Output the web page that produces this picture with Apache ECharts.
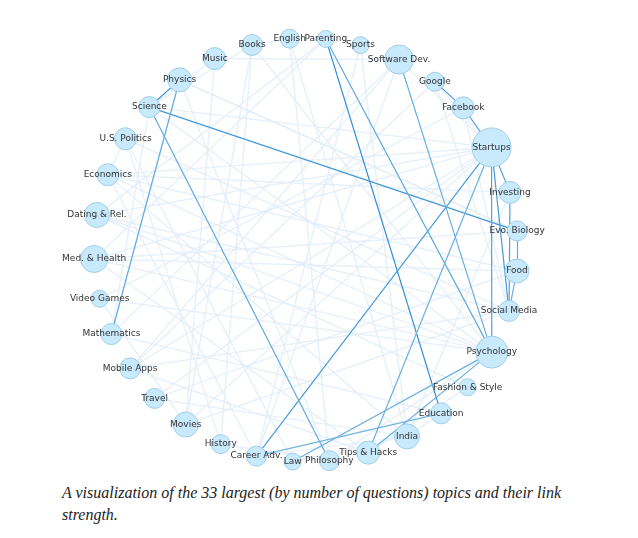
<!DOCTYPE html>
<html>
<head>
<meta charset="utf-8">
<script src="https://cdn.jsdelivr.net/npm/echarts@6/dist/echarts.min.js"></script>
<style>
  body { margin: 0; background: #fff; }
  #chart { width: 638px; height: 480px; }
  .caption { position: absolute; left: 62px; top: 482px; width: 540px; font-family: "Liberation Serif", serif; font-style: italic; font-size: 16px; line-height: 22px; color: #222; }
</style>
</head>
<body>
<div id="chart"></div>
<div class="caption">A visualization of the 33 largest (by number of questions) topics and their link strength.</div>
<script>
// 话题节点（从右侧开始，顺时针）
var topics = ['Food', 'Social Media', 'Psychology', 'Fashion & Style', 'Education', 'India', 'Tips & Hacks',
  'Philosophy', 'Law', 'Career Adv.', 'History', 'Movies', 'Travel', 'Mobile Apps', 'Mathematics',
  'Video Games', 'Med. & Health', 'Dating & Rel.', 'Economics', 'U.S. Politics', 'Science', 'Physics',
  'Music', 'Books', 'English', 'Parenting', 'Sports', 'Software Dev.', 'Google', 'Facebook', 'Startups',
  'Investing', 'Evo. Biology'];
var sizes = [24, 21, 32, 17, 21, 25, 23, 20, 17, 20, 19, 25, 20, 21, 21, 17, 27, 25, 22, 22, 21, 24,
  22, 21, 19, 17, 17, 29, 19, 22, 39, 22, 20];

// 强连接 [源, 目标, 强度 0-1]
var strongLinks = [
  ['Parenting', 'Education', 0.95], ['Science', 'Evo. Biology', 0.75], ['Startups', 'Career Adv.', 0.7],
  ['Startups', 'Social Media', 0.75], ['Startups', 'Psychology', 0.6], ['Investing', 'Social Media', 0.65],
  ['Physics', 'Science', 0.95], ['Google', 'Facebook', 0.7], ['Facebook', 'Startups', 0.55],
  ['Startups', 'Investing', 0.55], ['Evo. Biology', 'Food', 0.5], ['Science', 'Philosophy', 0.5],
  ['Parenting', 'Psychology', 0.5], ['Physics', 'Mathematics', 0.5], ['Psychology', 'Tips & Hacks', 0.45],
  ['Psychology', 'Law', 0.4], ['Software Dev.', 'Psychology', 0.4], ['Startups', 'Tips & Hacks', 0.4],
  ['Education', 'Career Adv.', 0.35], ['Food', 'Social Media', 0.4]
];
// 弱连接
var weakLinks = [
  ['Startups', 'Economics'], ['Startups', 'Mobile Apps'], ['Startups', 'Software Dev.'], ['Startups', 'Google'],
  ['Startups', 'Med. & Health'], ['Startups', 'Dating & Rel.'], ['Startups', 'Movies'], ['Startups', 'Travel'],
  ['Psychology', 'Med. & Health'], ['Psychology', 'Dating & Rel.'], ['Psychology', 'Economics'],
  ['Psychology', 'Philosophy'], ['Psychology', 'Books'], ['Psychology', 'Science'], ['Psychology', 'Video Games'],
  ['Science', 'Mathematics'], ['Science', 'Books'], ['Science', 'Music'], ['Science', 'Startups'],
  ['Economics', 'U.S. Politics'], ['Economics', 'Investing'], ['Economics', 'India'], ['Economics', 'Food'],
  ['Med. & Health', 'Food'], ['Med. & Health', 'Evo. Biology'], ['Dating & Rel.', 'Social Media'],
  ['Books', 'History'], ['Books', 'English'], ['Books', 'Movies'], ['Music', 'Movies'], ['Music', 'Software Dev.'],
  ['English', 'India'], ['English', 'Philosophy'], ['Sports', 'India'], ['Sports', 'Career Adv.'],
  ['Software Dev.', 'Mobile Apps'], ['Software Dev.', 'Mathematics'], ['Software Dev.', 'Career Adv.'],
  ['Google', 'Mobile Apps'], ['Google', 'Social Media'], ['Facebook', 'Social Media'], ['Facebook', 'Video Games'],
  ['Travel', 'India'], ['Travel', 'Food'], ['History', 'U.S. Politics'], ['History', 'Philosophy'],
  ['Law', 'U.S. Politics'], ['Law', 'India'], ['Fashion & Style', 'Dating & Rel.'], ['Fashion & Style', 'Tips & Hacks'],
  ['Education', 'India'], ['Education', 'Mathematics'], ['Career Adv.', 'India'], ['Career Adv.', 'Economics'],
  ['Tips & Hacks', 'Mobile Apps'], ['Tips & Hacks', 'Med. & Health'], ['Philosophy', 'Physics'],
  ['Mathematics', 'Physics'], ['Video Games', 'Movies'], ['Investing', 'India'], ['Evo. Biology', 'Physics'],
  ['Parenting', 'Dating & Rel.'], ['Parenting', 'Med. & Health'], ['Physics', 'Evo. Biology'],
  ['U.S. Politics', 'Social Media'], ['Movies', 'Social Media'], ['Mobile Apps', 'Social Media']
];

var nodes = topics.map(function (t, i) {
  return { name: t, symbolSize: sizes[i] };
});
var weak = weakLinks.map(function (l) {
  return { source: l[0], target: l[1], lineStyle: { color: '#e2edf7', width: 1.5, opacity: 0.8 } };
});
var strong = strongLinks.map(function (l) {
  return { source: l[0], target: l[1], lineStyle: { color: 'rgb(' + Math.round(150 - 110 * l[2]) + ',' + Math.round(205 - 70 * l[2]) + ',' + Math.round(232 - 20 * l[2]) + ')', width: 1.2, opacity: 1 } };
});

var chart = echarts.init(document.getElementById('chart'));
chart.setOption({
  animation: false,
  series: [{
    type: 'graph',
    layout: 'circular',
    left: 94, top: 38, width: 424, height: 424,
    data: nodes,
    links: weak.concat(strong),
    itemStyle: { color: '#c8eafc', borderColor: '#9fcfe8', borderWidth: 1 },
    label: { show: true, position: 'inside', color: '#333', fontSize: 9, fontFamily: 'DejaVu Sans' },
    lineStyle: { curveness: 0 },
    emphasis: { disabled: true }
  }]
});
</script>
</body>
</html>
